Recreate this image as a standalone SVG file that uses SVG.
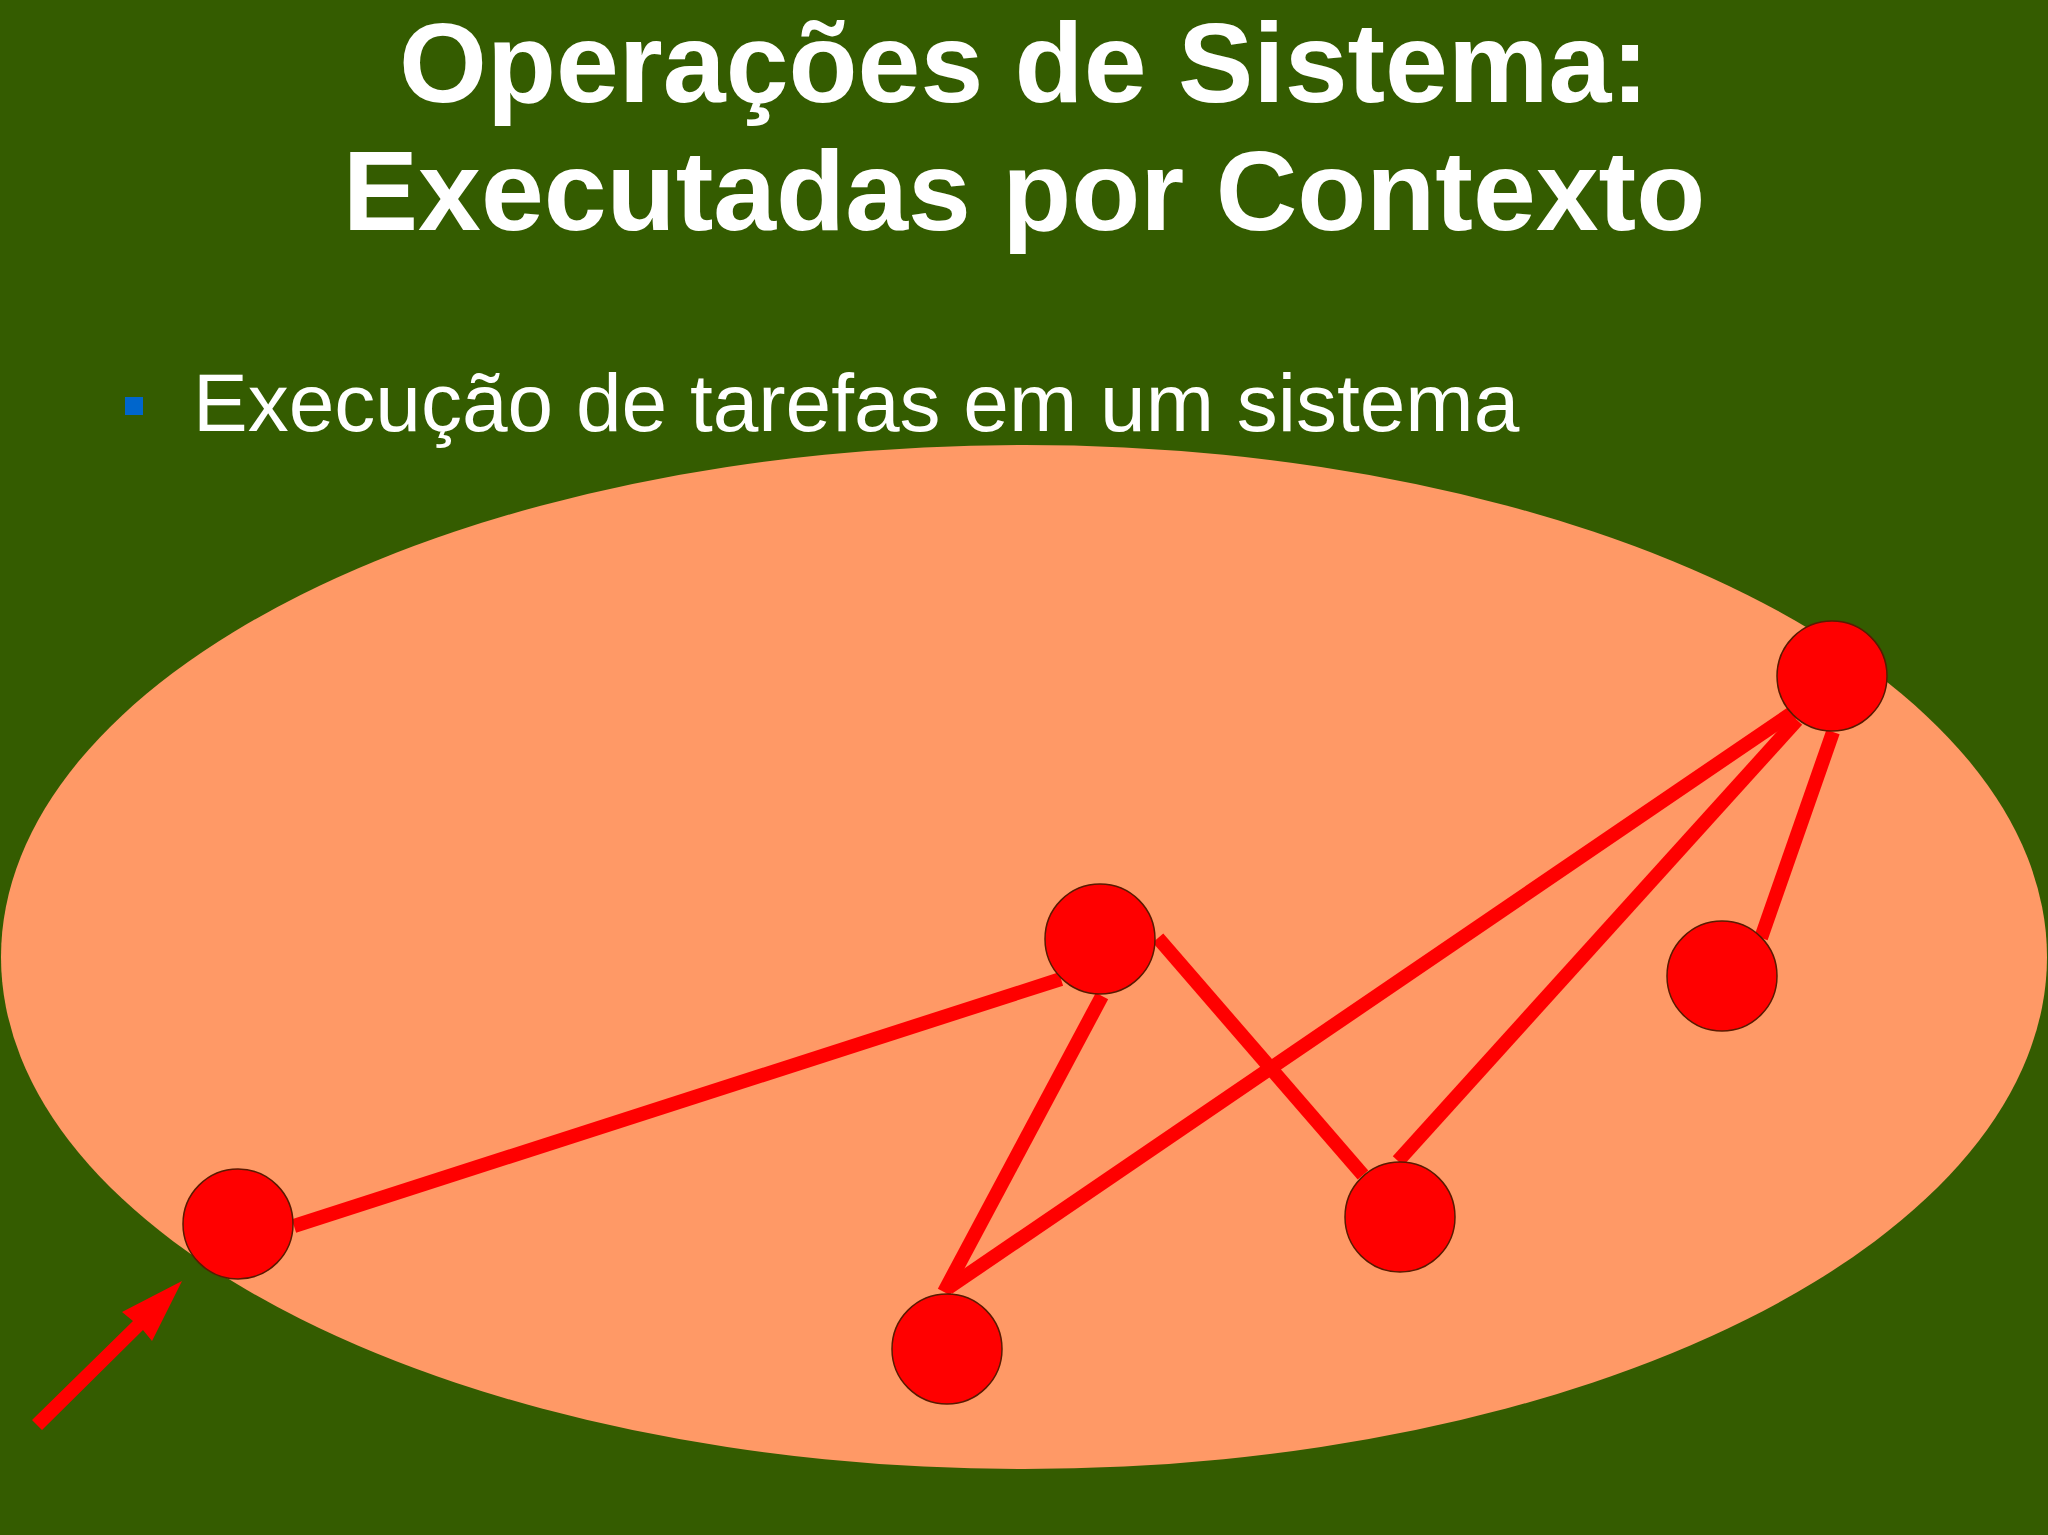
<svg xmlns="http://www.w3.org/2000/svg" width="2048" height="1535" viewBox="0 0 2048 1535">
<style>
.title{font-family:"Liberation Sans",Arial,sans-serif;font-weight:bold;font-size:113px;fill:#ffffff;text-anchor:middle}
.body{font-family:"Liberation Sans",Arial,sans-serif;font-size:82px;fill:#ffffff}
.node{fill:#ff0000;stroke:#5a1a00;stroke-width:1.5}
.edge{stroke:#ff0000;stroke-width:14;fill:none}
</style>
<rect x="0" y="0" width="2048" height="1535" fill="#345c00"/>
<text class="title" x="1024" y="102">Operações de Sistema:</text>
<text class="title" x="1024" y="230">Executadas por Contexto</text>
<rect x="125" y="397" width="18" height="18" fill="#0066cc"/>
<text class="body" x="193" y="431">Execução de tarefas em um sistema</text>
<ellipse cx="1024" cy="957" rx="1023" ry="512" fill="#ff9966"/>
<g id="connectors">
<line class="edge" x1="294" y1="1226" x2="1061" y2="979"/>
<line class="edge" x1="1102" y1="996" x2="944" y2="1292"/>
<line class="edge" x1="1158" y1="938" x2="1363" y2="1175"/>
<line class="edge" x1="948" y1="1288" x2="1792" y2="713"/>
<line class="edge" x1="1398" y1="1161" x2="1797" y2="720"/>
<line class="edge" x1="1833" y1="732" x2="1761" y2="938"/>
<polygon id="arrow" points="32,1420 42,1430 143,1330 152,1341 182,1281 122,1312 133,1321" fill="#ff0000"/>
</g>
<g id="n1"><circle class="node" cx="238" cy="1224" r="55"/></g>
<g id="n2"><circle class="node" cx="1100" cy="939" r="55"/></g>
<g id="n3"><circle class="node" cx="947" cy="1349" r="55"/></g>
<g id="n4"><circle class="node" cx="1400" cy="1217" r="55"/></g>
<g id="n5"><circle class="node" cx="1832" cy="676" r="55"/></g>
<g id="n6"><circle class="node" cx="1722" cy="976" r="55"/></g>
</svg>
